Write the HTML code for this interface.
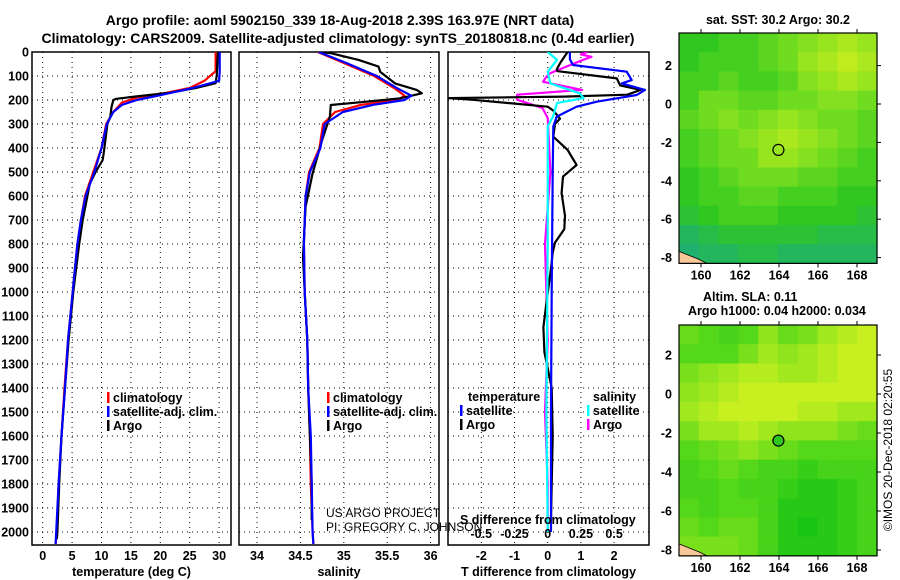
<!DOCTYPE html>
<html><head><meta charset="utf-8">
<style>
html,body{margin:0;padding:0;background:#fff;}
svg{display:block;font-family:"Liberation Sans",Arial,sans-serif;}
.b{font-weight:bold;font-size:12.5px;}
.t{font-weight:bold;font-size:14px;}
</style></head>
<body>
<svg id="chart" width="900" height="580" viewBox="0 0 900 580" xmlns="http://www.w3.org/2000/svg">
<text class="t" x="340" y="25" text-anchor="middle">Argo profile: aoml 5902150_339 18-Aug-2018 2.39S 163.97E (NRT data)</text>
<text class="t" x="338" y="43" text-anchor="middle">Climatology: CARS2009. Satellite-adjusted climatology: synTS_20180818.nc (0.4d earlier)</text>
<g id="plots"></g>
</svg>
<script>
// ---- data ----
const depthTicks=[0,100,200,300,400,500,600,700,800,900,1000,1100,1200,1300,1400,1500,1600,1700,1800,1900,2000];
const tempTicks=[0,5,10,15,20,25,30];
const salTicks=[34,34.5,35,35.5,36];
const tDiffTicks=[-2,-1,0,1,2];
const sDiffTicks=[-0.5,-0.25,0,0.25,0.5];
const tArgoDepth=[0,50,100,130,150,170,185,195,200,230,270,300,400,450,500,550,600,700,800,900,1000,1200,1400,1600,1800,2000,2030];
const tArgo=[29.8,29.7,29.6,29.4,26.0,21.5,16,12.5,12.0,11.7,11.5,11.0,10.5,10.2,9.0,8.0,7.6,6.8,6.2,5.7,5.2,4.4,3.8,3.2,2.8,2.5,2.4];
const tClimDepth=[0,80,120,150,170,190,210,250,300,400,500,600,700,800,900,1000,1200,1400,1600,1800,2000,2050];
const tClim=[29.4,29.4,27.5,25,21,16,13.5,12,10.8,10,8.6,7.2,6.5,5.9,5.5,5.1,4.3,3.7,3.2,2.7,2.4,2.2];
const tSatDepth=[0,80,120,150,180,200,220,250,300,400,500,600,700,800,900,1000,1200,1400,1600,1800,2000,2050];
const tSat=[30.1,30.1,30.0,25.5,20,16,13.5,12,10.9,10,8.8,7.3,6.5,5.9,5.5,5.1,4.3,3.8,3.2,2.7,2.3,2.2];
const sDepth=[0,46,100,150,182,200,220,250,300,400,500,600,800,1000,1200,1400,1600,1800,2000,2050];
const sSat=[34.71,35.03,35.38,35.61,35.78,35.70,35.34,34.99,34.78,34.73,34.61,34.56,34.54,34.55,34.58,34.59,34.62,34.63,34.64,34.65];
const sClim=[34.70,35.0,35.35,35.58,35.70,35.62,35.2,34.9,34.76,34.72,34.60,34.56,34.54,34.55,34.58,34.59,34.61,34.62,34.64,34.65];
const sArgoDepth=[0,5,33,61,83,131,158,172,193,207,221,269,367,506,644,853,1000,1200,1400,1600,1800,1950];
const sArgo=[34.72,34.85,35.17,35.40,35.42,35.59,35.84,35.90,35.65,35.26,34.85,34.84,34.75,34.64,34.56,34.53,34.55,34.58,34.59,34.61,34.63,34.63];
const dTArgoDepth=[0,47,73,80,110,139,158,178,186,192,199,228,244,278,299,353,408,471,519,588,683,738,794,836,903,1036,1147,1250,1400,1600,1800,1950];
const dTArgo=[0.6,0.37,0.27,0.3,2.08,2.18,2.8,2.4,0.5,-2.97,-2.25,0,0.17,0.37,0.22,0.17,0.6,0.87,0.46,0.42,0.52,0.5,0.22,0.15,0.1,-0.03,-0.13,-0.1,0.12,0.15,0.12,0.1];
const dTSatDepth=[0,30,54,82,117,131,158,179,207,228,269,310,500,1000,1500,2000];
const dTSat=[0.67,0.67,0.76,2.38,2.53,2.23,2.93,2.68,1.48,0.87,0.27,0.17,0.15,0.12,0.1,0.1];
const dSArgoDepth=[0,10,20,30,54,88,103,124,158,178,199,233,275,500,800,1200,1500,1800,2000];
const dSArgo=[0.3,0.25,0.33,0.28,0.17,0.02,-0.01,-0.035,0.26,-0.23,-0.23,-0.04,0,0.02,-0.02,0.0,-0.02,0,0];
const dSSatDepth=[0,33,82,131,172,192,213,269,310,800,1500,2000];
const dSSat=[0,0.07,0,0.02,0.24,0.27,0.07,0.04,0,0,-0.01,0];
const lonTicks=[160,162,164,166,168];
const latTicks=[2,0,-2,-4,-6,-8];
const sstGrid=[
[.45,.45,.5,.5,.55,.6,.65,.7,.75,.7],
[.45,.5,.5,.5,.55,.6,.7,.75,.8,.75],
[.5,.5,.55,.5,.5,.55,.65,.7,.75,.7],
[.5,.6,.6,.55,.55,.6,.6,.65,.65,.6],
[.55,.6,.65,.6,.65,.7,.65,.6,.6,.55],
[.5,.55,.6,.65,.7,.75,.7,.65,.6,.55],
[.5,.55,.6,.6,.7,.7,.65,.6,.55,.5],
[.45,.5,.55,.6,.6,.6,.55,.55,.5,.5],
[.45,.5,.5,.55,.55,.5,.5,.5,.45,.45],
[.4,.45,.5,.5,.5,.45,.45,.45,.45,.4],
[.3,.35,.4,.4,.4,.4,.4,.35,.35,.35],
[.25,.3,.3,.35,.35,.3,.3,.3,.3,.3]];
const slaGrid=[
[.55,.5,.45,.5,.65,.55,.6,.7,.75,.8],
[.5,.5,.5,.6,.7,.65,.7,.75,.8,.8],
[.6,.65,.7,.75,.75,.7,.7,.75,.8,.8],
[.65,.7,.75,.8,.8,.8,.8,.8,.8,.8],
[.7,.75,.8,.8,.8,.8,.75,.75,.7,.7],
[.6,.7,.7,.75,.7,.65,.65,.65,.6,.55],
[.5,.55,.6,.65,.6,.55,.5,.5,.5,.5],
[.45,.5,.55,.5,.45,.45,.4,.45,.45,.45],
[.45,.45,.5,.45,.45,.4,.35,.35,.4,.45],
[.5,.45,.5,.5,.45,.35,.35,.35,.4,.45],
[.55,.5,.55,.55,.45,.35,.3,.35,.4,.45],
[.6,.6,.6,.55,.45,.35,.35,.35,.4,.45]];

const NS='http://www.w3.org/2000/svg';
const root=document.getElementById('plots');
function mk(tag,attrs,parent){const e=document.createElementNS(NS,tag);for(const k in attrs)e.setAttribute(k,attrs[k]);(parent||root).appendChild(e);return e;}
function txt(s,x,y,cls,anchor,parent){const e=mk('text',{x:x,y:y,'class':cls||'b','text-anchor':anchor||'middle'},parent);e.textContent=s;return e;}

const TOP=52,BOT=545;
const yD=d=>TOP+d*0.24;
const panels=[
 {name:'temperature',x0:32,x1:231,f:v=>42.7+v*5.88,ticks:tempTicks,label:'temperature (deg C)'},
 {name:'salinity',x0:239,x1:439,f:v=>257+(v-34)*86.8,ticks:salTicks,label:'salinity'},
 {name:'difference',x0:448,x1:649,f:v=>547.7+v*33.2,ticks:tDiffTicks,label:'T difference from climatology'}];
const fS=v=>547.7+v*132.8;

// depth labels
depthTicks.forEach(d=>{const e=txt(String(d),29,yD(d)+4.5,'b','end');

});

panels.forEach((p,pi)=>{
 const g=mk('g',{});
 
 
 const cp=mk('clipPath',{id:'cp'+pi},g);mk('rect',{x:p.x0,y:TOP,width:p.x1-p.x0,height:BOT-TOP},cp);
 depthTicks.forEach(d=>{const l=mk('line',{x1:p.x0,x2:p.x1,y1:yD(d),y2:yD(d),stroke:'#000','stroke-width':1,'stroke-dasharray':'1 4'},g);
 
 });
 p.ticks.forEach(t=>{const x=p.f(t);const l=mk('line',{x1:x,x2:x,y1:TOP,y2:BOT,stroke:'#000','stroke-width':1,'stroke-dasharray':'1 4'},g);
 
 
 const e=txt(String(t),x,560,'b','middle',g);
 
 });
 const fr=mk('rect',{x:p.x0,y:TOP,width:p.x1-p.x0,height:BOT-TOP,fill:'none',stroke:'#000','stroke-width':1.5},g);
 
 
 const xl=txt(p.label,(p.x0+p.x1)/2,576,'b','middle',g);
 
 
 p.g=g;p.cp='url(#cp'+pi+')';
});

function line(p,depths,vals,f,color,name,w){
 const pts=depths.map((d,i)=>f(vals[i]).toFixed(1)+','+yD(d).toFixed(1)).join(' ');
 const e=mk('polyline',{points:pts,fill:'none',stroke:color,'stroke-width':w||2.2,'clip-path':p.cp,'stroke-linejoin':'round'},p.g);
 
 
}
const [P1,P2,P3]=panels;
line(P1,tClimDepth,tClim,P1.f,'#f00','temperature-climatology-line');
line(P1,tArgoDepth,tArgo,P1.f,'#000','temperature-argo-line');
line(P1,tSatDepth,tSat,P1.f,'#00f','temperature-satellite-line');
line(P2,sDepth,sClim,P2.f,'#f00','salinity-climatology-line');
line(P2,sArgoDepth,sArgo,P2.f,'#000','salinity-argo-line');
line(P2,sDepth,sSat,P2.f,'#00f','salinity-satellite-line');
line(P3,dSArgoDepth,dSArgo,fS,'#f0f','s-diff-argo-line');
line(P3,dTArgoDepth,dTArgo,P3.f,'#000','t-diff-argo-line');
line(P3,dTSatDepth,dTSat,P3.f,'#00f','t-diff-satellite-line');
line(P3,dSSatDepth,dSSat,fS,'#0ff','s-diff-satellite-line');

function legend(g,x,y,color,label,name){
 const lg=mk('g',{},g);
 
 
 mk('rect',{x:x,y:y-10,width:2.5,height:11,fill:color},lg);
 txt(label,x+6,y,'b','start',lg);
}
[[P1,107],[P2,327]].forEach(([p,x])=>{
 legend(p.g,x,402,'#f00','climatology','legend-climatology');
 legend(p.g,x,416,'#00f','satellite-adj. clim.','legend-satellite-adj');
 legend(p.g,x,430,'#000','Argo','legend-argo');
});
const lt=txt('temperature',468,401,'b','start',P3.g);


legend(P3.g,460,415,'#00f','satellite','legend-t-satellite');
legend(P3.g,460,429,'#000','Argo','legend-t-argo');
const ls=txt('salinity',593,401,'b','start',P3.g);


legend(P3.g,587,415,'#0ff','satellite','legend-s-satellite');
legend(P3.g,587,429,'#f0f','Argo','legend-s-argo');
const st=txt('S difference from climatology',460,524,'b','start',P3.g);


sDiffTicks.forEach(t=>{const e=txt(String(t),fS(t),538,'b','middle',P3.g);

});
const c1=txt('US ARGO PROJECT',326,517,'n','start');c1.setAttribute('style','font-size:12px');


const c2=txt('PI: GREGORY C. JOHNSON',326,531,'n','start');c2.setAttribute('style','font-size:12px');



// ---- maps ----
function lerpColor(stops,v){
 if(v<=stops[0][0])return stops[0][1];
 for(let i=1;i<stops.length;i++){if(v<=stops[i][0]){const a=stops[i-1],b=stops[i];const t=(v-a[0])/(b[0]-a[0]);
  const ca=a[1],cb=b[1];return 'rgb('+ca.map((c,k)=>Math.round(c+(cb[k]-c)*t)).join(',')+')';}}
 return 'rgb('+stops[stops.length-1][1].join(',')+')';
}
function asRgb(c){return Array.isArray(c)?'rgb('+c.join(',')+')':c;}
const stops1=[[0.25,[32,176,112]],[0.45,[48,200,32]],[0.6,[112,220,32]],[0.8,[192,236,30]]];
const stops2=[[0.3,[25,196,21]],[0.5,[85,216,26]],[0.8,[200,240,32]]];
function drawMap(grid,stops,top,latScale,lat0y,name,filled){
 const g=mk('g',{});
 
 
 const x0=679,x1=877,bot=lat0y+8.3*latScale;
 const lonX=l=>701+(l-160)*19.5, latY=l=>lat0y-l*latScale;
 const rows=grid.length,cols=grid[0].length;
 const cw=(x1-x0)/cols,ch=(bot-top)/rows;
 grid.forEach((r,i)=>r.forEach((v,j)=>{
  const c=mk('rect',{x:x0+j*cw,y:top+i*ch,width:cw+0.6,height:ch+0.6,fill:asRgb(lerpColor(stops,v))},g);
  
  
 }));
 const land=mk('polygon',{points:`${x0},${bot-12} ${x0+20},${bot-4} ${x0+28},${bot} ${x0},${bot}`,fill:'#f8c898',stroke:'#000','stroke-width':0.8},g);
 
 
 mk('rect',{x:x0,y:top,width:x1-x0,height:bot-top,fill:'none',stroke:'#000','stroke-width':1.2},g);
 lonTicks.forEach(l=>{const x=lonX(l);mk('line',{x1:x,x2:x,y1:bot,y2:bot+4,stroke:'#000'},g);mk('line',{x1:x,x2:x,y1:top,y2:top-4,stroke:'#000'},g);
  const e=txt(String(l),x,bot+16,'b','middle',g);
  
  });
 latTicks.forEach(l=>{const y=latY(l);mk('line',{x1:x1,x2:x1+4,y1:y,y2:y,stroke:'#000'},g);
  const e=txt(String(l),672,y+4.5,'b','end',g);
  
  });
 const m=mk('circle',{cx:lonX(163.97),cy:latY(-2.39),r:5.5,fill:filled?'#30c820':'none',stroke:'#000','stroke-width':1.2},g);
 
 
}
drawMap(sstGrid,stops1,33,19.2,104,'sst-map',false);
drawMap(slaGrid,stops2,325,19.5,394,'sla-map',true);
const mt=txt('sat. SST: 30.2 Argo: 30.2',778,24);
const a1=txt('Altim. SLA: 0.11',703,301,'b','start');
const a2=txt('Argo h1000: 0.04 h2000: 0.034',688,315,'b','start');
const cr=txt('©IMOS 20-Dec-2018 02:20:55',0,0,'n','middle');cr.setAttribute('style','font-size:12px');
cr.setAttribute('transform','translate(892,450) rotate(-90)');


</script>
</body></html>
